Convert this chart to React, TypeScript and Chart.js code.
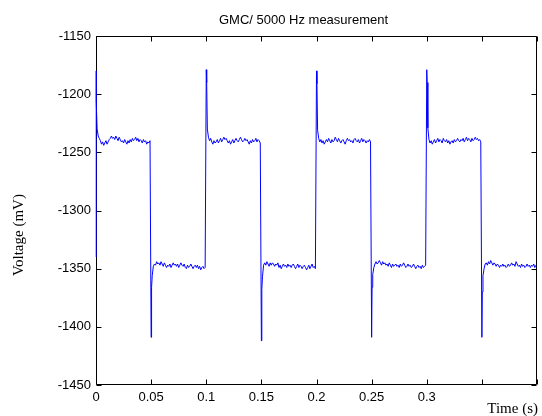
import React, { useEffect, useRef } from "react";
import { Chart, registerables } from "chart.js";

Chart.register(...registerables);

const chartTitle = "GMC/ 5000 Hz measurement";
const xTitle = "Time (s)";
const yTitle = "Voltage (mV)";

// first recorded sample (mV), before the first switch
const initialValue = -1340;
// start time (s) of each half period
const segmentStarts = [0, 0.05, 0.1, 0.15, 0.2, 0.25, 0.3, 0.35];
// transient peak at each switching instant (mV)
const spikePeaks = [-1180, -1409, -1179, -1412, -1180, -1409, -1179, -1409];
// settling samples right after the peak (mV)
const settleA = [-1206, -1366, -1190, -1368, -1191, -1366, -1190, -1370];
const settleB = [-1230, -1356, -1230, -1357, -1231, -1355, -1229, -1356];

// plateau samples (mV), 1 ms apart, starting 2 ms after each switch
const plateau0 = [
  -1236, -1238, -1240, -1243, -1241, -1244, -1242, -1240, -1243, -1241,
  -1239, -1238, -1236, -1238, -1237, -1239, -1236, -1238, -1240, -1237,
  -1239, -1241, -1240, -1242, -1239, -1241, -1243, -1240, -1242, -1239,
  -1241, -1238, -1240, -1239, -1237, -1240, -1238, -1241, -1239, -1240,
  -1242, -1239, -1241, -1240, -1243, -1241, -1242, -1240,
];
const plateau1 = [
  -1348, -1346, -1347, -1344, -1346, -1345, -1347, -1344, -1346, -1348,
  -1345, -1347, -1349, -1347, -1348, -1346, -1349, -1347, -1345, -1347,
  -1346, -1348, -1346, -1349, -1347, -1345, -1347, -1348, -1346, -1349,
  -1350, -1347, -1349, -1348, -1346, -1348, -1350, -1348, -1347, -1349,
  -1347, -1350, -1348, -1351, -1349, -1348, -1350, -1349,
];
const plateau2 = [
  -1237, -1240, -1238, -1241, -1243, -1240, -1242, -1241, -1239, -1242,
  -1240, -1238, -1241, -1239, -1237, -1239, -1238, -1240, -1242, -1240,
  -1243, -1241, -1239, -1242, -1240, -1238, -1240, -1241, -1239, -1237,
  -1239, -1241, -1240, -1238, -1240, -1239, -1241, -1243, -1240, -1242,
  -1239, -1241, -1240, -1238, -1241, -1239, -1240, -1242,
];
const plateau3 = [
  -1347, -1345, -1347, -1344, -1346, -1348, -1345, -1347, -1345, -1346,
  -1348, -1346, -1347, -1345, -1349, -1347, -1350, -1348, -1346, -1348,
  -1347, -1349, -1346, -1348, -1347, -1349, -1347, -1346, -1348, -1350,
  -1348, -1346, -1349, -1347, -1348, -1350, -1348, -1347, -1349, -1351,
  -1349, -1347, -1350, -1348, -1346, -1349, -1348, -1350,
];
const plateau4 = [
  -1238, -1241, -1239, -1242, -1240, -1243, -1241, -1239, -1241, -1238,
  -1240, -1242, -1239, -1241, -1240, -1237, -1239, -1241, -1238, -1240,
  -1242, -1240, -1239, -1241, -1243, -1240, -1238, -1240, -1239, -1241,
  -1240, -1242, -1239, -1238, -1240, -1241, -1239, -1242, -1240, -1238,
  -1241, -1239, -1240, -1242, -1240, -1241, -1239, -1241,
];
const plateau5 = [
  -1349, -1346, -1344, -1346, -1345, -1343, -1345, -1347, -1344, -1346,
  -1345, -1347, -1346, -1348, -1345, -1347, -1349, -1346, -1348, -1347,
  -1346, -1348, -1347, -1349, -1346, -1348, -1347, -1345, -1347, -1349,
  -1348, -1346, -1348, -1347, -1349, -1348, -1346, -1348, -1350, -1348,
  -1347, -1349, -1348, -1350, -1347, -1349, -1348, -1347,
];
const plateau6 = [
  -1239, -1242, -1240, -1243, -1241, -1239, -1242, -1240, -1238, -1241,
  -1239, -1240, -1242, -1238, -1240, -1241, -1239, -1242, -1240, -1243,
  -1241, -1240, -1242, -1239, -1241, -1240, -1238, -1240, -1241, -1239,
  -1240, -1238, -1241, -1239, -1237, -1240, -1238, -1239, -1241, -1238,
  -1240, -1239, -1237, -1239, -1238, -1240, -1239, -1241,
];
const plateau7 = [
  -1350, -1346, -1345, -1347, -1344, -1346, -1343, -1345, -1347, -1345,
  -1346, -1348, -1346, -1347, -1349, -1347, -1348, -1346, -1348, -1347,
  -1349, -1348, -1346, -1348, -1347, -1345, -1347, -1346, -1348, -1344,
  -1346, -1348, -1347, -1349, -1346, -1348, -1347, -1349, -1348, -1346,
  -1348, -1347, -1349, -1347, -1348, -1346, -1349, -1347,
];
const plateaus = [plateau0, plateau1, plateau2, plateau3, plateau4, plateau5, plateau6, plateau7];

const sampleStep = 0.001;

const xTicksLabelled = [0, 0.05, 0.1, 0.15, 0.2, 0.25, 0.3];

function buildPoints() {
  const pts: { x: number; y: number }[] = [{ x: 0, y: initialValue }];
  segmentStarts.forEach((s, k) => {
    pts.push({ x: s, y: spikePeaks[k] });
    pts.push({ x: s + 0.0004, y: settleA[k] });
    pts.push({ x: s + 0.001, y: settleB[k] });
    plateaus[k].forEach((v, i) => {
      pts.push({ x: s + 0.002 + sampleStep * i, y: v });
    });
  });
  return pts;
}

const framePlugin = {
  id: "matlabFrame",
  beforeDatasetsDraw(chart: any) {
    const { ctx, chartArea } = chart;
    const { left, right, top, bottom } = chartArea;
    const xs = chart.scales.x;
    const ys = chart.scales.y;
    ctx.save();
    ctx.strokeStyle = "#000";
    ctx.lineWidth = 1;
    const L = Math.round(left) + 0.5;
    const R = Math.round(right) - 0.5;
    const T = Math.round(top) + 0.5;
    const B = Math.round(bottom) - 0.5;
    ctx.beginPath();
    ctx.rect(L, T, R - L, B - T);
    const tl = 5;
    xs.ticks.forEach((t: any) => {
      const px = Math.round(xs.getPixelForValue(t.value)) + 0.5;
      ctx.moveTo(px, B);
      ctx.lineTo(px, B - tl);
      ctx.moveTo(px, T);
      ctx.lineTo(px, T + tl);
    });
    ys.ticks.forEach((t: any) => {
      const py = Math.round(ys.getPixelForValue(t.value)) + 0.5;
      ctx.moveTo(L, py);
      ctx.lineTo(L + tl, py);
      ctx.moveTo(R, py);
      ctx.lineTo(R - tl, py);
    });
    ctx.stroke();

    ctx.fillStyle = "#000";
    ctx.font = '13px "Liberation Sans", Arial, sans-serif';
    ctx.textAlign = "center";
    ctx.textBaseline = "middle";
    ctx.fillText(chartTitle, (left + right) / 2 - 13, 20);

    ctx.font = '15px "Liberation Serif", "Times New Roman", serif';
    ctx.textAlign = "right";
    ctx.fillText(xTitle, right + 1, bottom + 24);

    ctx.translate(19, 235);
    ctx.rotate(-Math.PI / 2);
    ctx.textAlign = "center";
    ctx.fillText(yTitle, 0, 0);
    ctx.restore();
  },
};

export default function App() {
  const ref = useRef<HTMLCanvasElement | null>(null);
  useEffect(() => {
    if (!ref.current) return;
    const chart = new Chart(ref.current, {
      type: "line",
      data: {
        datasets: [
          {
            data: buildPoints(),
            borderColor: "#0000ff",
            borderWidth: 1,
            pointRadius: 0,
            tension: 0,
            fill: false,
            clip: 3,
          },
        ],
      },
      options: {
        responsive: false,
        animation: false,
        layout: { padding: { top: 36, right: 5, bottom: 0, left: 0 } },
        plugins: { legend: { display: false }, title: { display: false }, tooltip: { enabled: false } },
        scales: {
          x: {
            type: "linear",
            min: 0,
            max: 0.4,
            grid: { display: false, drawTicks: false },
            border: { display: false },
            ticks: {
              stepSize: 0.05,
              autoSkip: false,
              maxRotation: 0,
              padding: 5,
              color: "#000",
              font: { family: '"Liberation Sans", Arial, sans-serif', size: 13 },
              callback: (v: any) => {
                const n = Number(Number(v).toFixed(2));
                return xTicksLabelled.includes(n) ? String(n) : "";
              },
            },
            afterFit: (s: any) => {
              s.height = 31;
            },
          },
          y: {
            type: "linear",
            min: -1450,
            max: -1150,
            grid: { display: false, drawTicks: false },
            border: { display: false },
            ticks: {
              stepSize: 50,
              padding: 5,
              color: "#000",
              font: { family: '"Liberation Sans", Arial, sans-serif', size: 13 },
              callback: (v: any) => String(Math.round(Number(v))),
            },
            afterFit: (s: any) => {
              s.width = 96;
            },
          },
        },
      },
      plugins: [framePlugin],
    });
    return () => chart.destroy();
  }, []);
  return (
    <div style={{ position: "fixed", left: 0, top: 0, width: 542, height: 416, background: "#fff" }}>
      <canvas ref={ref} width={542} height={416} style={{ display: "block" }} />
    </div>
  );
}
